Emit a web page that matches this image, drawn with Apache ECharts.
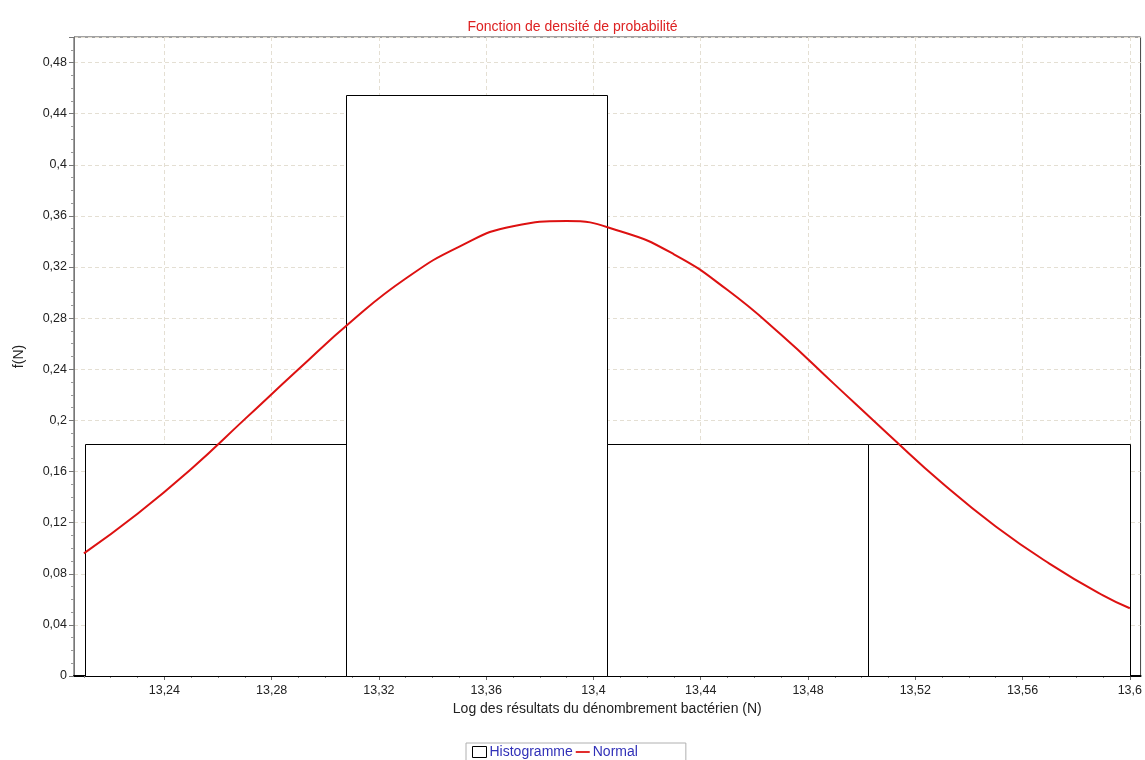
<!DOCTYPE html>
<html><head><meta charset="utf-8">
<script src="https://cdn.jsdelivr.net/npm/echarts@6/dist/echarts.min.js"></script>
<style>html,body{margin:0;padding:0;background:#fff}#c{width:1145px;height:760px}</style>
</head><body><div id="c"></div>
<script>
// Histogram bins (relative frequencies)
const binStarts = [13.2104, 13.3078, 13.4051, 13.5025];
const binEnds = [13.3078, 13.4051, 13.5025, 13.6000];
const frequencies = [0.1818, 0.4545, 0.1818, 0.1818];
// Normal curve points
const curveX = [13.21, 13.23, 13.25, 13.27, 13.29, 13.31, 13.33, 13.35, 13.37, 13.39, 13.41, 13.43, 13.45, 13.47, 13.49, 13.51, 13.53, 13.55, 13.57, 13.59, 13.60];
const curveY = [0.096, 0.127, 0.162, 0.201, 0.240, 0.278, 0.311, 0.336, 0.352, 0.356, 0.348, 0.330, 0.302, 0.267, 0.228, 0.189, 0.151, 0.117, 0.088, 0.063, 0.053];
// Axis ticks
const xTickValues = [13.24, 13.28, 13.32, 13.36, 13.40, 13.44, 13.48, 13.52, 13.56, 13.60];
const xMinorTickValues = [13.21, 13.22, 13.23, 13.25, 13.26, 13.27, 13.29, 13.30, 13.31, 13.33, 13.34, 13.35, 13.37, 13.38, 13.39, 13.41, 13.42, 13.43, 13.45, 13.46, 13.47, 13.49, 13.50, 13.51, 13.53, 13.54, 13.55, 13.57, 13.58, 13.59];
const xMin = 13.2063, xMax = 13.604;
const yMin = 0, yMax = 0.5, yStep = 0.04;

const FONT = 'Liberation Sans, Arial, sans-serif';
const comma = v => String(+(+v).toFixed(4)).replace('.', ',');
const chart = echarts.init(document.getElementById('c'));
chart.setOption({
  animation: false,
  backgroundColor: '#fff',
  textStyle: { fontFamily: FONT },
  title: {
    text: 'Fonction de densité de probabilité',
    left: 'center', top: 15,
    textStyle: { color: '#dd2222', fontSize: 14, fontWeight: 'normal', fontFamily: FONT }
  },
  grid: { left: 74, right: 3, top: 37, bottom: 84, show: true, borderColor: '#444', borderWidth: 1, backgroundColor: 'transparent' },
  legend: {
    left: 466, top: 743,
    borderColor: '#b0b0b0', borderWidth: 1, padding: [2, 48, 2, 6],
    itemGap: 3, itemWidth: 14, itemHeight: 11,
    textStyle: { color: '#3030b8', fontSize: 14, fontFamily: FONT, padding: [0, 0, 0, -2] },
    data: [
      { name: 'Histogramme', icon: 'rect', itemStyle: { color: '#fff', borderColor: '#000', borderWidth: 1 } },
      { name: 'Normal', icon: 'path://M0,0 L16,0 L16,2 L0,2 Z', itemStyle: { color: '#dd1111', borderWidth: 0 } }
    ]
  },
  xAxis: [{
    type: 'value', min: xMin, max: xMax,
    name: 'Log des résultats du dénombrement bactérien (N)',
    nameLocation: 'middle', nameGap: 23,
    nameTextStyle: { color: '#222', fontSize: 14, fontFamily: FONT },
    axisLine: { show: true, lineStyle: { color: '#000', width: 2 } },
    axisTick: { show: true, length: 4, lineStyle: { color: '#666' }, customValues: xTickValues },
    axisLabel: { color: '#222', fontSize: 12.5, margin: 8, customValues: xTickValues, formatter: comma },
    splitLine: { show: true, lineStyle: { color: '#e4dfd3', type: [4, 3] } }
  }, {
    type: 'value', min: xMin, max: xMax, position: 'bottom', gridIndex: 0,
    axisLine: { show: false },
    axisTick: { show: true, length: 2, lineStyle: { color: '#888' }, customValues: xMinorTickValues },
    axisLabel: { show: false },
    splitLine: { show: false }
  }],
  yAxis: {
    type: 'value', min: yMin, max: yMax, interval: yStep,
    name: 'f(N)', nameLocation: 'middle', nameGap: 48,
    nameTextStyle: { color: '#222', fontSize: 14, fontFamily: FONT },
    axisLine: { show: true, lineStyle: { color: '#777', width: 1 } },
    axisTick: { show: true, length: 5, lineStyle: { color: '#777' } },
    minorTick: { show: true, splitNumber: 4, length: 3, lineStyle: { color: '#999' } },
    axisLabel: { color: '#222', fontSize: 12.5, margin: 7, showMaxLabel: false, formatter: comma },
    splitLine: { show: true, lineStyle: { color: '#e4dfd3', type: [4, 3] } }
  },
  series: [{
    name: 'Histogramme', type: 'custom', z: 2,
    data: binStarts.map((s, i) => [s, binEnds[i], frequencies[i]]),
    encode: { x: [0, 1], y: 2 },
    itemStyle: { color: '#fff', borderColor: '#000' },
    renderItem: (params, api) => {
      const p0 = api.coord([api.value(0), api.value(2)]);
      const p1 = api.coord([api.value(1), 0]);
      return {
        type: 'rect',
        shape: { x: Math.round(p0[0]) + 0.5, y: Math.round(p0[1]) + 0.5, width: Math.round(p1[0]) - Math.round(p0[0]), height: Math.round(p1[1]) - Math.round(p0[1]) },
        style: { fill: '#fff', stroke: '#000', lineWidth: 1 }
      };
    }
  }, {
    name: 'Normal', type: 'line', z: 5,
    data: curveX.map((x, i) => [x, curveY[i]]),
    smooth: true, symbol: 'none', showSymbol: false,
    lineStyle: { color: '#dd1111', width: 2 },
    itemStyle: { color: '#dd1111' }
  }]
});
</script></body></html>
